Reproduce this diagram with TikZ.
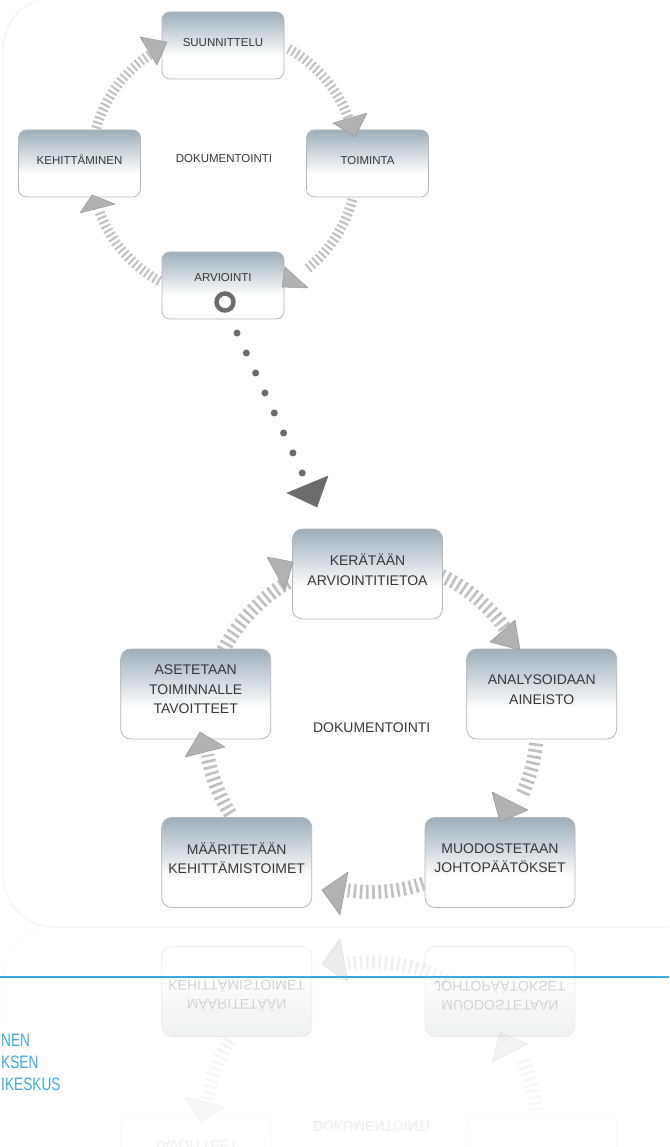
\documentclass[tikz,border=0pt]{standalone}
\usepackage{fontspec}
\setmainfont{Liberation Sans}
\usepackage{graphicx}
\usetikzlibrary{calc}
\definecolor{boxtop}{RGB}{158,174,185}
\definecolor{boxborder}{RGB}{182,182,182}
\definecolor{hatch}{RGB}{192,192,192}
\definecolor{tri}{RGB}{178,178,178}
\definecolor{triedge}{RGB}{150,150,150}
\definecolor{txt}{RGB}{55,55,55}
\definecolor{darkdot}{RGB}{108,108,108}
\definecolor{framecol}{RGB}{242,242,242}
\definecolor{bluecol}{RGB}{60,170,225}
\pgfdeclareverticalshading{boxshade}{100bp}{color(0bp)=(white); color(25bp)=(white); color(42bp)=(white); color(75bp)=(boxtop); color(100bp)=(boxtop)}
\pgfdeclareverticalshading{boxshadeflip}{100bp}{color(0bp)=(boxtop); color(25bp)=(boxtop); color(58bp)=(white); color(75bp)=(white); color(100bp)=(white)}
\tikzset{
  smallbox/.style={draw=boxborder, line width=0.8pt, rounded corners=8pt, shading=boxshade,
    minimum width=122pt, minimum height=67pt, inner sep=0pt, text=txt,
    font=\fontsize{11.5}{14}\selectfont, text height=8.5pt, text depth=7pt},
  bigbox/.style={draw=boxborder, line width=0.8pt, rounded corners=10pt, shading=boxshade,
    minimum width=150pt, minimum height=90pt, inner sep=0pt, align=center, text=txt,
    font=\fontsize{14}{19.5}\selectfont, text depth=9pt},
  smalllabel/.style={text=txt, font=\fontsize{11.5}{14}\selectfont, inner sep=0pt},
  biglabel/.style={text=txt, font=\fontsize{14}{17}\selectfont, inner sep=0pt},
  hatchsmall/.style={draw=hatch, line width=10pt, dash pattern=on 2pt off 2.8pt},
  hatchbig/.style={draw=hatch, line width=14pt, dash pattern=on 2.6pt off 3.6pt},
  tip/.style={fill=tri, draw=triedge, line width=0.5pt, line join=round},
  darktip/.style={fill=darkdot, draw=darkdot, line width=0.5pt, line join=round},
  dotline/.style={draw=darkdot, line width=7pt, line cap=round, dash pattern=on 0pt off 22.06pt},
  framestyle/.style={draw=framecol, line width=1pt, rounded corners=52pt},
  bluetext/.style={text=bluecol, font=\fontsize{18}{20}\selectfont, inner sep=0pt, anchor=base west}
}
\newcommand{\bottomcycle}{%
  \coordinate (c2) at (371,726);
  \draw[hatchbig] ($(c2)+(-65:166)$) arc[start angle=-65, end angle=-35, radius=166];
  \draw[hatchbig] ($(c2)+(6:166)$) arc[start angle=6, end angle=25, radius=166];
  \draw[hatchbig] ($(c2)+(63:166)$) arc[start angle=63, end angle=98, radius=166];
  \draw[hatchbig] ($(c2)+(148:166)$) arc[start angle=148, end angle=170, radius=166];
  \draw[hatchbig] ($(c2)+(-153:166)$) arc[start angle=-153, end angle=-120, radius=166];
  \node[bigbox] (ker) at (367.5,574) {KERÄTÄÄN\\ARVIOINTITIETOA};
  \node[bigbox] (ana) at (541.7,694) {ANALYSOIDAAN\\AINEISTO};
  \node[bigbox] (muo) at (500,862.5) {MUODOSTETAAN\\JOHTOPÄÄTÖKSET};
  \node[bigbox] (maa) at (236.7,862.5) {MÄÄRITETÄÄN\\KEHITTÄMISTOIMET};
  \node[bigbox] (ase) at (195.7,694) {ASETETAAN\\TOIMINNALLE\\TAVOITTEET};
  \node[biglabel] (dok2) at (371.7,728) {DOKUMENTOINTI};
  \filldraw[tip] (490,642) -- (515,620) -- (520,650) -- cycle;
  \filldraw[tip] (492,792) -- (528,810) -- (500,822) -- cycle;
  \filldraw[tip] (322,890) -- (348,872) -- (340,915) -- cycle;
  \filldraw[tip] (185,757) -- (200,732) -- (225,747) -- cycle;
  \filldraw[tip] (267,557) -- (293,562) -- (285,590) -- cycle;
}
\begin{document}
\begin{tikzpicture}[x=1pt, y=-1pt]
\useasboundingbox (0,0) rectangle (669,1147);
\clip (0,0) rectangle (669,1147);
\fill[white] (0,0) rectangle (669,1147);
% background frame
\draw[framestyle] (3,-3) rectangle (720,927);
% top cycle
\coordinate (c1) at (224,165);
\draw[hatchsmall] ($(c1)+(-61:133)$) arc[start angle=-61, end angle=-20, radius=133];
\draw[hatchsmall] ($(c1)+(15:133)$) arc[start angle=15, end angle=52, radius=133];
\draw[hatchsmall] ($(c1)+(119:133)$) arc[start angle=119, end angle=160, radius=133];
\draw[hatchsmall] ($(c1)+(-164:133)$) arc[start angle=-164, end angle=-123, radius=133];
\node[smallbox] (suu) at (223,45.5) {SUUNNITTELU};
\node[smallbox] (toi) at (367.5,163.5) {TOIMINTA};
\node[smallbox, text depth=17pt] (arv) at (223,285.5) {ARVIOINTI};
\node[smallbox] (keh) at (79.5,163.5) {KEHITTÄMINEN};
\node[smalllabel] (dok1) at (224,159) {DOKUMENTOINTI};
\draw[darkdot, line width=4.5pt] (225,302) circle (8.5);
\filldraw[tip] (333,123) -- (367,113) -- (355,137) -- cycle;
\filldraw[tip] (285,267) -- (308,288) -- (282,287) -- cycle;
\filldraw[tip] (80,213) -- (92,195) -- (115,204) -- cycle;
\filldraw[tip] (140,37) -- (167,42) -- (157,65) -- cycle;
% dotted link
\coordinate (d1) at (237,333);
\coordinate (d2) at (302.5,473.5);
\draw[dotline] (d1) -- (d2);
\filldraw[darktip] (287,493) -- (328,476) -- (317,507) -- cycle;
% bottom cycle
\bottomcycle
% reflection
\begin{scope}[yshift=-1854pt, yscale=-1, transform shape, name prefix=r-, opacity=0.25]
  \tikzset{bigbox/.append style={shading=boxshadeflip}}
  \draw[framestyle] (3,-3) rectangle (720,927);
  \bottomcycle
\end{scope}
\foreach \i in {0,...,43}{
  \pgfmathsetmacro\op{0.72*(\i+0.5)/44}
  \fill[white, fill opacity=\op] (0,{927+5*\i}) rectangle (669,{932+5*\i});
}
% blue rule and text
\draw[bluecol, line width=2.5pt] (0,977) -- (669,977);
\node[bluetext] (b1) at (1,1046) {\scalebox{0.76}[1]{NEN}};
\node[bluetext] (b2) at (1,1068) {\scalebox{0.76}[1]{KSEN}};
\node[bluetext] (b3) at (1,1090) {\scalebox{0.76}[1]{IKESKUS}};
\end{tikzpicture}
\end{document}
